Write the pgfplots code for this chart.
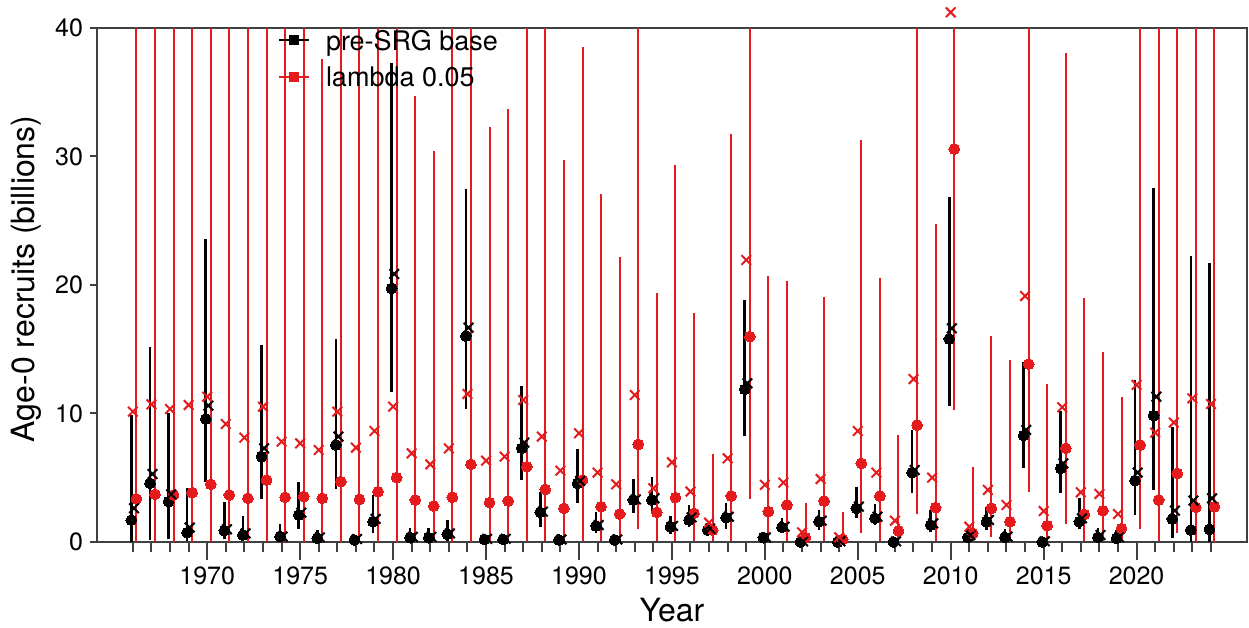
\documentclass[border=0pt]{standalone}
\usepackage{pgfplots}
\usepackage{pgfplotstable}
\usepackage{fontspec}
\setmainfont{TeX Gyre Heros}
\pgfplotsset{compat=1.18}

\definecolor{srgred}{RGB}{228,26,28}
\definecolor{axisgray}{RGB}{64,64,64}

% Age-0 recruits (billions): median, mean and interval bounds per year
% b* = pre-SRG base, r* = lambda 0.05 (upper bounds shown up to the axis top)
\pgfplotstableread{
year bmed  bmean blo   bhi   rmed  rmean rlo   rhi
1966 1.71  2.62  0.00  9.88  3.35  10.14 0.00  40
1967 4.57  5.29  0.15  15.20 3.71  10.71 0.00  40
1968 3.14  3.71  0.20  10.00 3.66  10.35 0.00  40
1969 0.73  1.12  0.05  4.18  3.84  10.66 0.00  40
1970 9.57  10.61 4.70  23.60 4.49  11.31 0.00  40
1971 0.88  0.99  0.20  3.14  3.66  9.18  0.00  40
1972 0.54  0.67  0.10  2.02  3.40  8.12  0.00  40
1973 6.64  7.29  3.32  15.33 4.82  10.53 0.00  40
1974 0.42  0.42  0.05  1.40  3.48  7.81  0.00  40
1975 2.10  2.28  0.99  4.70  3.53  7.68  0.00  40
1976 0.29  0.36  0.05  0.93  3.40  7.16  0.00  37.60
1977 7.55  8.20  4.10  15.77 4.70  10.14 0.00  40
1978 0.16  0.23  0.00  0.47  3.32  7.34  0.00  40
1979 1.58  1.79  0.67  3.66  3.92  8.64  0.00  40
1980 19.74 20.86 11.70 37.25 5.01  10.53 0.00  40
1981 0.34  0.40  0.05  1.12  3.27  6.90  0.00  34.73
1982 0.34  0.40  0.05  1.06  2.80  6.04  0.00  30.45
1983 0.60  0.67  0.10  1.71  3.48  7.29  0.00  40
1984 16.03 16.68 10.32 27.44 6.04  11.52 0.00  40
1985 0.20  0.25  0.00  0.60  3.06  6.33  0.00  32.32
1986 0.20  0.25  0.00  0.60  3.19  6.64  0.00  33.67
1987 7.29  7.73  4.82  12.14 5.86  11.05 0.10  40
1988 2.31  2.36  1.19  3.92  4.10  8.20  0.10  40
1989 0.16  0.20  0.00  0.50  2.62  5.55  0.05  29.73
1990 4.57  4.75  3.06  7.24  4.82  8.46  0.10  38.55
1991 1.25  1.32  0.67  2.36  2.75  5.40  0.05  27.08
1992 0.16  0.20  0.00  0.50  2.18  4.49  0.05  22.15
1993 3.27  3.32  2.23  4.90  7.60  11.44 1.00  40
1994 3.27  3.40  2.36  5.03  2.31  4.18  0.10  19.40
1995 1.19  1.25  0.60  2.02  3.45  6.20  0.10  29.34
1996 1.71  1.92  1.19  2.88  2.23  3.92  0.05  17.85
1997 0.93  1.04  0.60  1.50  0.93  1.50  0.05  6.85
1998 1.89  1.97  1.00  3.06  3.58  6.51  0.10  31.75
1999 11.88 12.35 8.25  18.83 15.98 21.95 3.32  40
2000 0.34  0.36  0.05  0.80  2.36  4.44  0.05  20.70
2001 1.14  1.19  0.70  1.84  2.88  4.62  0.10  20.34
2002 0.00  0.05  0.00  0.10  0.34  0.75  0.00  3.06
2003 1.58  1.66  0.90  2.49  3.19  4.90  0.10  19.09
2004 0.00  0.05  0.00  0.10  0.20  0.36  0.00  2.36
2005 2.62  2.75  1.84  4.25  6.12  8.64  0.67  31.28
2006 1.84  1.97  1.32  2.96  3.58  5.40  0.10  20.52
2007 0.00  0.05  0.00  0.10  0.86  1.66  0.05  8.33
2008 5.40  5.60  3.79  8.72  9.10  12.68 2.18  40
2009 1.32  1.45  0.80  2.49  2.67  5.01  0.10  24.72
2010 15.80 16.63 10.58 26.87 30.58 41.22 10.27 40
2011 0.36  0.54  0.10  1.00  0.67  1.19  0.05  5.86
2012 1.58  1.71  0.90  2.75  2.62  4.05  0.41  16.03
2013 0.36  0.42  0.05  1.00  1.58  2.88  0.05  14.16
2014 8.28  8.72  5.73  14.03 13.85 19.14 3.92  40
2015 0.00  0.05  0.00  0.10  1.27  2.41  0.05  12.27
2016 5.73  6.12  3.79  10.22 7.29  10.48 1.40  38.08
2017 1.58  1.84  1.00  3.40  2.15  3.87  0.05  19.01
2018 0.36  0.54  0.10  1.12  2.44  3.74  0.05  14.76
2019 0.29  0.36  0.05  0.90  1.04  2.18  0.05  11.26
2020 4.77  5.40  2.10  12.61 7.55  12.22 1.00  40
2021 9.83  11.31 4.05  27.52 3.27  8.51  0.05  40
2022 1.79  2.44  0.29  8.92  5.34  9.29  0.70  40
2023 0.93  3.22  0.00  22.28 2.70  11.18 0.00  40
2024 0.99  3.40  0.00  21.69 2.75  10.74 0.00  40
}\recruits

\begin{document}
\begin{tikzpicture}
\begin{axis}[
  scale only axis,
  width=575pt, height=257pt,
  xmin=1964.07, xmax=2025.94,
  ymin=0, ymax=40,
  clip=false,
  axis line style={axisgray, line width=1pt},
  tick style={axisgray, line width=1pt},
  tick align=outside,
  xtick pos=lower, ytick pos=left,
  major tick length=9pt, minor tick length=5pt,
  xtick={1970,1975,...,2020},
  minor xtick={1966,1967,...,2024},
  ytick=\empty,
  extra y ticks={0,10,20,30,40},
  extra y tick style={major tick length=3.5pt},
  /pgf/number format/assume math mode=true,
  x tick label style={/pgf/number format/1000 sep={}},
  tick label style={font=\fontsize{12.5}{14}\selectfont},
  label style={font=\fontsize{16}{18}\selectfont},
  xlabel={Year},
  ylabel={Age-0 recruits (billions)},
  xlabel style={at={(axis description cs:0.5,0)}, anchor=base, yshift=-39.85pt},
  ylabel style={at={(axis description cs:0,0.512)}, anchor=center, yshift=35.5pt},
  legend style={at={(0.1574,1)}, anchor=north west, yshift=-1.2pt,
    draw=none, fill=none, inner sep=0pt, outer sep=0pt, row sep=8.3pt,
    font=\fontsize{13.5}{15}\selectfont,
    nodes={inner sep=0pt, text height=10pt, text depth=0pt}},
  legend cell align=left,
  legend image code/.code={%
    \draw[#1, mark repeat=2, mark phase=2] plot coordinates {(0pt,0pt) (7.5pt,0pt) (15pt,0pt)};
    \path (23pt,0pt);},
]
\coordinate (bl) at (rel axis cs:0,0);
\coordinate (tr) at (rel axis cs:1,1);

% pre-SRG base: median with interval
\addplot[black, forget plot, only marks, mark=*, mark size=2.7pt,
  mark options={draw=black, fill=black, line width=0pt},
  error bars/.cd, y dir=both, y explicit, error mark=none,
  error bar style={line width=1.3pt, black}]
  table[x expr=\thisrow{year}-0.08, y=bmed,
        y error plus expr=\thisrow{bhi}-\thisrow{bmed},
        y error minus expr=\thisrow{bmed}-\thisrow{blo}] {\recruits};

% lambda 0.05: median with interval
\addplot[srgred, forget plot, only marks, mark=*, mark size=2.7pt,
  mark options={draw=srgred, fill=srgred, line width=0pt},
  error bars/.cd, y dir=both, y explicit, error mark=none,
  error bar style={line width=1pt, srgred}]
  table[x expr=\thisrow{year}+0.19, y=rmed,
        y error plus expr=\thisrow{rhi}-\thisrow{rmed},
        y error minus expr=\thisrow{rmed}-\thisrow{rlo}] {\recruits};

% means
\addplot[black, forget plot, only marks, mark=x, mark size=3.4pt,
  mark options={draw=black, line width=1pt}]
  table[x expr=\thisrow{year}+0.06, y=bmean] {\recruits};
\addplot[srgred, forget plot, only marks, mark=x, mark size=3.4pt,
  mark options={draw=srgred, line width=1pt}]
  table[x expr=\thisrow{year}, y=rmean] {\recruits};

\addlegendimage{black, line width=1pt, mark=square*, mark size=2pt}
\addlegendentry{pre-SRG base}
\addlegendimage{srgred, line width=1pt, mark=square*, mark size=2pt}
\addlegendentry{lambda 0.05}
\end{axis}
\pgfresetboundingbox
\path[use as bounding box] ([xshift=-48.5pt,yshift=-43pt]bl) rectangle ([xshift=1pt,yshift=14pt]tr);
\end{tikzpicture}
\end{document}
